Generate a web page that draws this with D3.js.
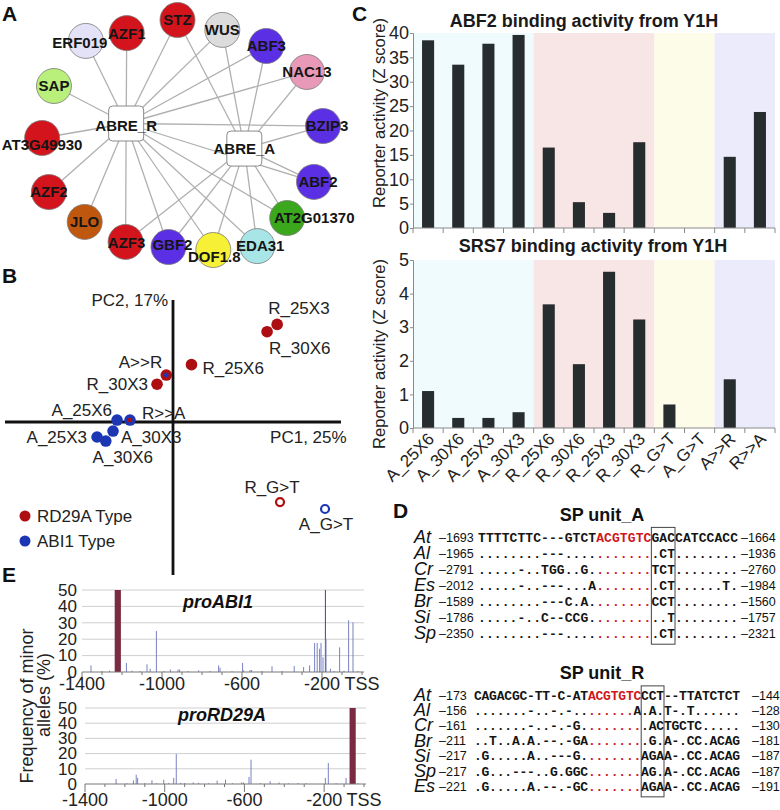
<!DOCTYPE html>
<html><head><meta charset="utf-8">
<script src="https://cdn.jsdelivr.net/npm/d3@7"></script>
<style>body{margin:0;background:#fff}svg{display:block}</style>
</head><body>
<svg id="fig" width="780" height="810"></svg>
<script>
// ---------------- DATA ----------------
// Panel A: Y1H network
const tfNodes = ["ERF019","AZF1","STZ","WUS","ABF3","NAC13","BZIP3","ABF2","AT2G01370","EDA31","DOF1.8","GBF2","AZF3","JLO","AZF2","AT3G49930","SAP"];
const tfFamily = ["ERF","C2H2","C2H2","HB","bZIP","NAC","bZIP","bZIP","MYB","EDA","DOF","bZIP","C2H2","LBD","C2H2","C2H2","SAP"];
const abreRTargets = tfNodes.slice();
const abreATargets = ["STZ","WUS","ABF3","NAC13","BZIP3","ABF2","AT2G01370","EDA31","DOF1.8","GBF2","AZF3"];
const hubs = ["ABRE_R","ABRE_A"];

// Panel B: PCA
const pcaNames = ["R_25X3","R_30X6","R_25X6","A>>R","R_30X3","A_25X6","R>>A","A_30X3","A_25X3","A_30X6","R_G>T","A_G>T"];
const pc1 = [0.62,0.56,0.11,-0.04,-0.095,-0.333,-0.256,-0.357,-0.452,-0.40,0.637,0.905];
const pc2 = [0.80,0.74,0.47,0.385,0.31,0.016,0.016,-0.074,-0.123,-0.156,-0.656,-0.713];
const pcaType = ["R","R","R","R","R","A","A","A","A","A","R","A"];
const pcaMarker = ["fill","fill","fill","swapA","fill","fill","swapR","fill","fill","fill","open","open"];
const pcaAxisNames = ["PC1, 25%","PC2, 17%"];
const legendNames = ["RD29A Type","ABI1 Type"];

// Panel C: Y1H reporter activity
const y1hCategories = ["A_25X6","A_30X6","A_25X3","A_30X3","R_25X6","R_30X6","R_25X3","R_30X3","R_G>T","A_G>T","A>>R","R>>A"];
const abf2Values = [38.5,33.5,37.8,39.6,16.5,5.3,3.1,17.6,0,0,14.6,23.8];
const srs7Values = [1.1,0.3,0.3,0.47,3.68,1.9,4.65,3.23,0.7,0,1.45,0];
const groupFirst = ["A_25X6","R_25X6","R_G>T","A>>R"];
const groupLast  = ["A_30X3","R_30X3","A_G>T","R>>A"];
const abf2Ticks = [0,5,10,15,20,25,30,35,40];
const srs7Ticks = [0,1,2,3,4,5];

// Panel D: alignments
const unitASpecies = ["At","Al","Cr","Es","Br","Si","Sp"];
const unitAStart = [-1693,-1965,-2791,-2012,-1589,-1786,-2350];
const unitAEnd = [-1664,-1936,-2760,-1984,-1560,-1757,-2321];
const unitASeq = [
  "TTTTCTTC---GTCT" + "ACGTGTC" + "GACCATCCACC",
  "........---...." + "......." + ".CT........",
  ".....-..TGG..G." + "......." + "TCT........",
  ".....-..---...A" + "......." + ".CT......T.",
  "........---C.A." + "......." + "CCT........",
  ".....-..C--CCG." + "......." + "..T........",
  "........---...." + "......." + ".CT........"
];
const unitRSpecies = ["At","Al","Cr","Br","Si","Sp","Es"];
const unitRStart = [-173,-156,-161,-211,-217,-217,-221];
const unitREnd = [-144,-128,-130,-181,-187,-187,-191];
const unitRSeq = [
  "CAGACGC-TT-C-AT" + "ACGTGTC" + "CCT--TTATCTCT",
  ".......-..-.-.." + "......A" + ".A.T-.T......",
  ".......-..-.-G." + "......." + ".ACTGCTC.....",
  "..T..A.A.--.-GA" + "......." + ".G.A-.CC.ACAG",
  ".G.....A..---G." + "......." + "AGAA-.CC.ACAG",
  ".G...---..G.GGC" + "......." + "AG.A-.CC.ACAG",
  ".G.....A.--.-GC" + "......." + "AGAA-.CC.ACAG"
];
const coreStart = 15, coreEnd = 21, snpStart = 22, snpEnd = 24;

// Panel E: minor allele frequency
const abi1Pos  = [-1355,-1300,-1262,-1178,-1150,-1110,-1075,-1059,-1028,-990,-958,-920,-912,-870,-817,-760,-717,-710,-650,-597,-592,-560,-552,-500,-450,-400,-339,-292,-262,-237,-224,-212,-205,-195,-183,-180,-158,-140,-112,-90,-67,-45,-20];
const abi1Freq = [4,0.6,0.8,5.5,0.8,0.5,4.7,2,25,0.6,1.5,1.5,1.5,0.5,1,0.6,4,2.6,0.5,5.5,1,1.2,1.2,0.6,3.5,0.5,3.7,3,4,17.7,17.7,14.2,17.7,9,50,20,2,0.6,15,0.7,31.5,30.3,0.6];
const rd29Pos  = [-1244,-1190,-1157,-1143,-1136,-1100,-1064,-1040,-1005,-980,-955,-942,-920,-900,-857,-830,-780,-737,-695,-660,-614,-605,-577,-567,-520,-471,-426,-380,-330,-290,-194,-179,-140,-90,-30];
const rd29Freq = [3.3,0.5,2.4,6.1,4,0.6,2.5,0.5,2.8,0.6,4,19.7,0.8,0.6,1,0.8,0.5,2.2,2.8,0.5,1,1,4.6,16,0.6,1.8,1,0.5,0.6,0.5,4,13.8,0.5,4,0.5];
const abi1Major = -1221, rd29Major = -57, majorFreq = 50, majorWidth = 31;
const freqTicks = [0,10,20,30,40,50];
const posTicks = [-1400,-1000,-600,-200,0];
const posTickNames = ["-1400","-1000","-600","-200","TSS"];

// ---------------- STYLE / LAYOUT ----------------
const FONT = "Arial, 'Liberation Sans', Helvetica, sans-serif";
const MONO = "'Courier New', 'Liberation Mono', monospace";
const familyColor = {ERF:"#e4e2f7",C2H2:"#d3141c",HB:"#dcdcdc",bZIP:"#5b30e4",NAC:"#e999b8",MYB:"#3ba71d",EDA:"#a8e5e6",DOF:"#f6f136",LBD:"#c0570f",SAP:"#b9ef7b"};
const typeColor = {R:"#ad0e12",A:"#1c36b4"};
const bandColors = ["#effbfd","#f8e5e5","#fdfce9","#ecebfb"];
// network layout (normalised coordinates inside panel A)
const nodeLayout = {
  "ERF019":[0.159,0.091],"AZF1":[0.304,0.057],"STZ":[0.484,0],"WUS":[0.643,0.043],"ABF3":[0.799,0.113],
  "NAC13":[0.943,0.226],"BZIP3":[1.0,0.461],"ABF2":[0.968,0.704],"AT2G01370":[0.873,0.861],"EDA31":[0.767,0.983],
  "DOF1.8":[0.611,1.0],"GBF2":[0.452,0.987],"AZF3":[0.300,0.965],"JLO":[0.155,0.878],"AZF2":[0.028,0.748],
  "AT3G49930":[0.004,0.513],"SAP":[0.046,0.287],"ABRE_R":[0.302,0.450],"ABRE_A":[0.721,0.559]
};
const labelShift = {"ERF019":[-6,2],"AT3G49930":[0,7],"GBF2":[4,-2],"DOF1.8":[1,7],"AT2G01370":[27,0],"EDA31":[3,0],"BZIP3":[4,0],"ABF2":[4,0],"AZF3":[1,1],"ABRE_R":[0,2],"ABRE_A":[0,0]};
const pcaLabelPos = [[-9,-10,"start"],[2,22,"start"],[11,9,"start"],[-4,-7,"end"],[-9,6,"end"],[-5,-4,"end"],[12,-1,"start"],[8,12,"start"],[-10,6,"end"],[17,22,"middle"],[-8,-9,"middle"],[1,21,"middle"]];

const svg = d3.select("#fig");
svg.append("rect").attr("width",780).attr("height",810).attr("fill","#fff");

// panel letters
const panelLetters = [["A",2,21],["B",2,283],["C",352,21],["D",393,518],["E",2,582]];
svg.selectAll("text.plab").data(panelLetters).join("text").attr("class","plab")
  .attr("x",d=>d[1]).attr("y",d=>d[2]).text(d=>d[0])
  .attr("font-family",FONT).attr("font-weight","bold").attr("font-size",21).attr("fill","#111");

// ---------------- PANEL A ----------------
(function(){
  const g = svg.append("g");
  const nx = d3.scaleLinear().domain([0,1]).range([41,323]);
  const ny = d3.scaleLinear().domain([0,1]).range([20,250]);
  const P = n => [nx(nodeLayout[n][0]), ny(nodeLayout[n][1])];
  const edges = [];
  abreRTargets.forEach(t=>edges.push(["ABRE_R",t]));
  abreATargets.forEach(t=>edges.push(["ABRE_A",t]));
  g.selectAll("line").data(edges).join("line")
    .attr("x1",d=>P(d[0])[0]).attr("y1",d=>P(d[0])[1])
    .attr("x2",d=>P(d[1])[0]).attr("y2",d=>P(d[1])[1])
    .attr("stroke","#b0b0b0").attr("stroke-width",1.3);
  g.selectAll("rect.hub").data(hubs).join("rect").attr("class","hub")
    .attr("x",d=>P(d)[0]-17.5).attr("y",d=>P(d)[1]-17.5).attr("width",35).attr("height",35)
    .attr("rx",4).attr("fill","#fff").attr("stroke","#8a8a8a").attr("stroke-width",1);
  g.selectAll("circle.tf").data(tfNodes).join("circle").attr("class","tf")
    .attr("cx",d=>P(d)[0]).attr("cy",d=>P(d)[1]).attr("r",17.5)
    .attr("fill",(d,i)=>familyColor[tfFamily[i]]).attr("stroke","#7a7a7a").attr("stroke-width",0.8);
  g.selectAll("text.lab").data(tfNodes.concat(hubs)).join("text").attr("class","lab")
    .attr("x",d=>P(d)[0]+(labelShift[d]?labelShift[d][0]:0))
    .attr("y",d=>P(d)[1]+(labelShift[d]?labelShift[d][1]:0))
    .attr("dy","0.36em").attr("text-anchor","middle")
    .attr("font-family",FONT).attr("font-weight","bold").attr("font-size",15).attr("fill","#151515")
    .text(d=>d);
})();

// ---------------- PANEL B ----------------
(function(){
  const g = svg.append("g");
  const x = d3.scaleLinear().domain([-1,1]).range([5,341]);
  const y = d3.scaleLinear().domain([-1,1]).range([544,300]);
  g.append("line").attr("x1",x(-1)).attr("x2",x(1)).attr("y1",y(0)).attr("y2",y(0)).attr("stroke","#111").attr("stroke-width",2.8);
  g.append("line").attr("x1",x(0)).attr("x2",x(0)).attr("y1",y(1)).attr("y2",y(-1.254)).attr("stroke","#111").attr("stroke-width",2.8);
  g.append("text").attr("x",x(0)-5).attr("y",y(1)+6).attr("text-anchor","end").text(pcaAxisNames[1])
    .attr("font-family",FONT).attr("font-size",17).attr("fill","#222");
  g.append("text").attr("x",x(0.578)).attr("y",y(-0.172)).text(pcaAxisNames[0])
    .attr("font-family",FONT).attr("font-size",17).attr("fill","#222");
  pcaNames.forEach((n,i)=>{
    const cx = x(pc1[i]), cy = y(pc2[i]), col = typeColor[pcaType[i]];
    if (pcaMarker[i]==="open") {
      g.append("circle").attr("cx",cx).attr("cy",cy).attr("r",4).attr("fill","#fff").attr("stroke",col).attr("stroke-width",2.2);
    } else {
      g.append("circle").attr("cx",cx).attr("cy",cy).attr("r",5.8).attr("fill",col);
      if (pcaMarker[i]==="swapA") g.append("circle").attr("cx",cx).attr("cy",cy).attr("r",2.4).attr("fill",typeColor.A);
      if (pcaMarker[i]==="swapR") g.append("circle").attr("cx",cx).attr("cy",cy).attr("r",2.4).attr("fill",typeColor.R);
    }
    const lp = pcaLabelPos[i];
    g.append("text").attr("x",cx+lp[0]).attr("y",cy+lp[1]).attr("text-anchor",lp[2]).text(n)
      .attr("font-family",FONT).attr("font-size",17).attr("fill","#222");
  });
  ["R","A"].forEach((t,i)=>{
    g.append("circle").attr("cx",25).attr("cy",516+25*i).attr("r",5.5).attr("fill",typeColor[t]);
    g.append("text").attr("x",37).attr("y",522+25*i).text(legendNames[i])
      .attr("font-family",FONT).attr("font-size",17).attr("fill","#222");
  });
})();

// ---------------- PANEL C ----------------
function barChart(values, maxV, ticks, yTop, yBot, title, titleX, titleY, ylabY, showLabels){
  const g = svg.append("g");
  const x = d3.scaleBand().domain(y1hCategories).range([413,775]).paddingInner(0.6).paddingOuter(0.3);
  const y = d3.scaleLinear().domain([0,maxV]).range([yBot,yTop]);
  const step = x.step(), b0 = x(y1hCategories[0]) - step*0.3;
  const bound = k => b0 + k*step;
  groupFirst.forEach((f,i)=>{
    const s = y1hCategories.indexOf(f), e = y1hCategories.indexOf(groupLast[i]);
    g.append("rect").attr("x",bound(s)).attr("width",bound(e+1)-bound(s))
      .attr("y",y(maxV)).attr("height",y(0)-y(maxV)).attr("fill",bandColors[i]);
  });
  g.selectAll("rect.bar").data(values).join("rect").attr("class","bar")
    .attr("x",(d,i)=>x(y1hCategories[i])).attr("width",x.bandwidth())
    .attr("y",d=>y(d)).attr("height",d=>y(0)-y(d)).attr("fill","#272c2e");
  const ax = g.append("g").attr("transform",`translate(413,0)`)
    .call(d3.axisLeft(y).tickValues(ticks).tickSize(3).tickPadding(1).tickFormat(d3.format("d")));
  ax.select(".domain").attr("stroke","#8a8a8a");
  ax.selectAll(".tick line").attr("stroke","#8a8a8a");
  ax.selectAll(".tick text").attr("font-family",FONT).attr("font-size",18).attr("fill","#222");
  g.append("line").attr("x1",bound(0)).attr("x2",bound(12)).attr("y1",y(0)).attr("y2",y(0)).attr("stroke","#8a8a8a");
  g.selectAll("line.xt").data(d3.range(13)).join("line").attr("class","xt")
    .attr("x1",k=>bound(k)).attr("x2",k=>bound(k)).attr("y1",y(0)).attr("y2",y(0)+5).attr("stroke","#8a8a8a");
  g.append("text").attr("x",titleX).attr("y",titleY).attr("text-anchor","middle").text(title)
    .attr("font-family",FONT).attr("font-weight","bold").attr("font-size",18).attr("fill","#1a1a1a");
  g.append("text").attr("transform",`translate(379,${ylabY}) rotate(-90)`).attr("dy","0.35em")
    .attr("text-anchor","middle").text("Reporter activity (Z score)")
    .attr("font-family",FONT).attr("font-size",16.5).attr("fill","#222");
  if (showLabels) {
    g.selectAll("text.xl").data(y1hCategories).join("text").attr("class","xl")
      .attr("transform",d=>`translate(${x(d)+x.bandwidth()/2+7},${y(0)+12}) rotate(-45)`)
      .attr("text-anchor","end").text(d=>d)
      .attr("font-family",FONT).attr("font-size",17).attr("fill","#222");
  }
}
barChart(abf2Values,40,abf2Ticks,33,228,"ABF2 binding activity from Y1H",584,27,113,false);
barChart(srs7Values,5,srs7Ticks,260,428,"SRS7 binding activity from Y1H",593,252,354,true);

// ---------------- PANEL D ----------------
function alignment(title, titleY, species, starts, ends, seqs, rowY0, rowStep, seqX0, charW, endX){
  const g = svg.append("g");
  const cx = d3.scaleLinear().domain([0,1]).range([seqX0, seqX0+charW]);
  const ry = d3.scaleLinear().domain([0,1]).range([rowY0, rowY0+rowStep]);
  g.append("text").attr("x",602).attr("y",titleY).attr("text-anchor","middle").text(title)
    .attr("font-family",FONT).attr("font-weight","bold").attr("font-size",18).attr("fill","#111");
  species.forEach((sp,r)=>{
    const yc = ry(r);
    g.append("text").attr("x",414).attr("y",yc+6).text(sp).attr("font-family",FONT)
      .attr("font-style","italic").attr("font-size",18).attr("fill","#111");
    g.append("text").attr("x",439).attr("y",yc+4.5).text("–"+Math.abs(starts[r]))
      .attr("font-family",FONT).attr("font-size",12.5).attr("fill","#111");
    g.append("text").attr("x",endX).attr("y",yc+4.5).text("–"+Math.abs(ends[r]))
      .attr("font-family",FONT).attr("font-size",12.5).attr("fill","#111");
    const chars = seqs[r].split("");
    g.selectAll(null).data(chars).join("text")
      .attr("x",(c,i)=>cx(i)+charW/2).attr("y",yc+4.5).attr("text-anchor","middle").text(c=>c)
      .attr("font-family",MONO).attr("font-weight","bold").attr("font-size",13)
      .attr("fill",(c,i)=> (i>=coreStart && i<=coreEnd && (r===0 || c==="."))? "#d0161c" : "#141414");
  });
  g.append("rect").attr("x",cx(snpStart)).attr("width",cx(snpEnd+1)-cx(snpStart))
    .attr("y",ry(-0.6)).attr("height",ry(species.length-0.3)-ry(-0.6))
    .attr("fill","none").attr("stroke","#444").attr("stroke-width",1);
}
alignment("SP unit_A",521,unitASpecies,unitAStart,unitAEnd,unitASeq,537,16,478,7.88,741);
alignment("SP unit_R",679,unitRSpecies,unitRStart,unitREnd,unitRSeq,695,15.2,474,7.6,752);

// ---------------- PANEL E ----------------
function freqPlot(pos, freq, major, yTop, yBot, xL, xR, title, titleX, titleY, labY){
  const g = svg.append("g");
  const x = d3.scaleLinear().domain([-1400,0]).range([xL,xR]);
  const y = d3.scaleLinear().domain([0,50]).range([yBot,yTop]);
  g.selectAll("line.grid").data(freqTicks.slice(1)).join("line").attr("class","grid")
    .attr("x1",xL).attr("x2",xR+2).attr("y1",d=>y(d)).attr("y2",d=>y(d)).attr("stroke","#cfcfcf").attr("stroke-width",1);
  g.selectAll("line.sp").data(pos).join("line").attr("class","sp")
    .attr("x1",d=>x(d)).attr("x2",d=>x(d)).attr("y1",y(0)).attr("y2",(d,i)=>y(freq[i]))
    .attr("stroke",(d,i)=>freq[i]>=45?"#3a45a0":"#7a82c2").attr("stroke-width",1);
  g.append("rect").attr("x",x(major-majorWidth/2)).attr("width",x(major+majorWidth/2)-x(major-majorWidth/2))
    .attr("y",y(majorFreq)).attr("height",y(0)-y(majorFreq)).attr("fill","#7b2b41");
  g.append("line").attr("x1",xL).attr("x2",xR+2).attr("y1",y(0)).attr("y2",y(0)).attr("stroke","#777").attr("stroke-width",1);
  g.selectAll("line.mt").data(d3.range(-1400,1,100)).join("line").attr("class","mt")
    .attr("x1",d=>x(d)).attr("x2",d=>x(d)).attr("y1",y(0))
    .attr("y2",d=>y(0)+((d+1400)%400===0?8:3)).attr("stroke","#777");
  g.selectAll("text.yl").data(freqTicks).join("text").attr("class","yl")
    .attr("x",77).attr("y",d=>y(d)).attr("dy","0.34em").attr("text-anchor","end").text(d=>d)
    .attr("font-family",FONT).attr("font-size",17).attr("fill","#222");
  g.selectAll("text.xl").data(posTicks).join("text").attr("class","xl")
    .attr("x",d=>x(d)).attr("y",labY).attr("text-anchor","middle").text((d,i)=>posTickNames[i])
    .attr("font-family",FONT).attr("font-size",18).attr("fill","#222");
  g.append("text").attr("x",titleX).attr("y",titleY).attr("text-anchor","middle").text(title)
    .attr("font-family",FONT).attr("font-weight","bold").attr("font-style","italic").attr("font-size",18).attr("fill","#111");
}
freqPlot(abi1Pos,abi1Freq,abi1Major,590,672,82,362,"proABI1",218,608,690);
freqPlot(rd29Pos,rd29Freq,rd29Major,708,784,85,364,"proRD29A",222,721,806);
svg.append("text").attr("transform","translate(27,706) rotate(-90)").attr("dy","0.35em").attr("text-anchor","middle")
  .text("Frequency of minor").attr("font-family",FONT).attr("font-size",18).attr("fill","#222");
svg.append("text").attr("transform","translate(44,695) rotate(-90)").attr("dy","0.35em").attr("text-anchor","middle")
  .text("alleles (%)").attr("font-family",FONT).attr("font-size",18).attr("fill","#222");
</script>
</body></html>
